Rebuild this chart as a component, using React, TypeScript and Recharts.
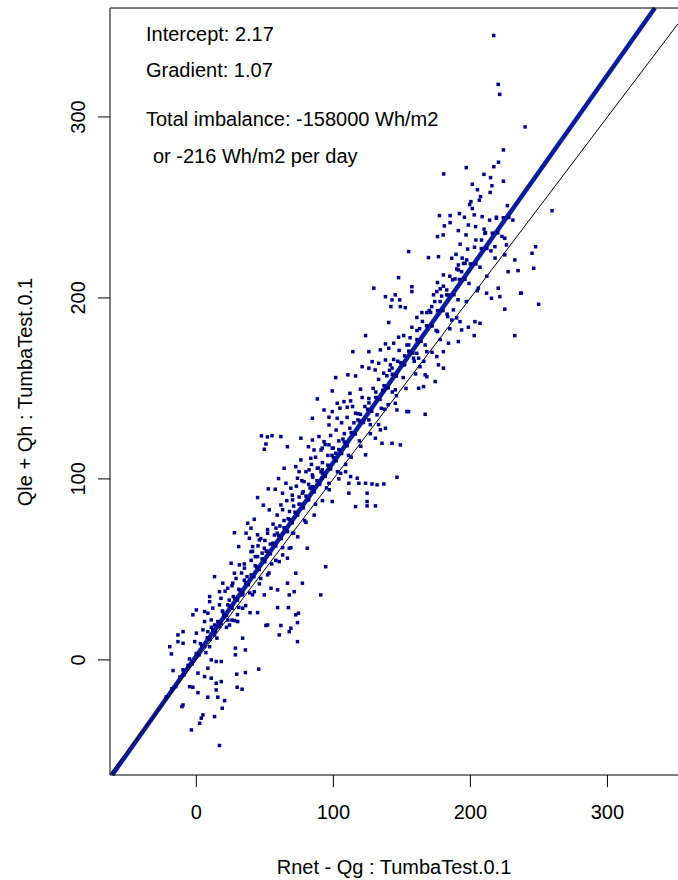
import { ScatterChart, Scatter, XAxis, YAxis, ReferenceLine } from "recharts";

type Pt = [number, number];

const xTicks = [0, 100, 200, 300];
const yTicks = [0, 100, 200, 300];
const xDomain: [number, number] = [-63, 351.5];
const yDomain: [number, number] = [-63.6, 360.2];

const intercept = 2.17;
const gradient = 1.07;

const xTitle = "Rnet - Qg : TumbaTest.0.1";
const yTitle = "Qle + Qh : TumbaTest.0.1";
const notes = [
  "Intercept: 2.17",
  "Gradient: 1.07",
  "Total imbalance: -158000 Wh/m2",
  "or -216 Wh/m2 per day",
];

// points sitting on the fitted line (the dense band)
const bandPoints: Pt[] = [
  [-22, -20.5], [-18, -16], [-15, -14.8], [-12, -9.5], [-9, -8.3], [-6, -3], [-3, -2.2],
  [0, 3.5], [2, 2.8], [4, 7.9], [6, 7.4], [8, 12.3], [10, 11.5], [12, 16.6], [14, 15.9],
  [16, 21], [18, 20.1], [20, 25.2], [22, 24.6], [24, 29.8], [26, 28.5], [28, 34], [30, 33],
  [32, 38.5], [34, 37], [36, 42.6], [38, 41.5], [40, 47], [42, 46], [44, 51.4], [46, 50],
  [48, 55.8], [50, 54.2], [52, 60], [54, 58.6], [56, 64.5], [58, 63], [60, 68.8], [62, 67],
  [64, 73], [66, 71.2], [68, 77.5], [70, 75.8], [72, 81.6], [74, 80], [76, 86], [78, 84],
  [80, 90.5], [82, 88.4], [84, 94.6], [86, 92.8], [88, 99], [90, 97], [92, 103.2], [94, 101.4],
  [96, 107.6], [98, 105.5], [100, 111.8], [102, 110], [104, 116.2], [106, 114], [108, 120.4],
  [110, 118.3], [113, 125.6], [116, 124.8], [119, 132], [122, 131.2], [125, 138.5], [128, 137.4],
  [131, 145], [134, 144], [137, 151.5], [140, 150.3], [143, 157.8], [146, 156.8], [149, 164.2],
  [152, 163], [155, 170.6], [158, 169.6], [161, 177], [164, 176], [168, 184.6], [172, 184.5],
  [176, 193], [180, 193], [184, 201.6], [188, 201.8], [192, 210.2], [196, 210.3], [200, 218.8],
  [204, 218.8], [208, 227.3], [212, 227.4], [216, 235.8], [220, 236], [224, 244.3], [228, 244.5],
];

// points close to the line on either side
const nearLine: Pt[] = [
  [-5, 0.5], [3, 9], [7, 4], [11, 18], [15, 12], [19, 27], [23, 22], [27, 35], [31, 29],
  [35, 44], [39, 37], [43, 52], [47, 45], [51, 60], [55, 53], [59, 70], [63, 62], [67, 78],
  [71, 70], [75, 86], [79, 77], [83, 95], [87, 86], [91, 104], [95, 95], [99, 113], [103, 104],
  [107, 122], [111, 113], [115, 131], [119, 121], [123, 140], [127, 130], [131, 148], [135, 139],
  [139, 157], [143, 148], [147, 165], [151, 156], [155, 174], [159, 165], [163, 183], [167, 174],
  [171, 192], [175, 182], [179, 201], [183, 191], [187, 210], [191, 199], [195, 219], [199, 208],
  [203, 228], [207, 217], [211, 236], [215, 226], [219, 244], [223, 234], [227, 251], [231, 243],
];

// the denser cloud just above the line
const aboveCloud: Pt[] = [
  [18, 34], [21, 38], [24, 33], [26, 41], [29, 45], [31, 39], [33, 48], [35, 53], [37, 46],
  [40, 55], [41, 60], [43, 57], [45, 63], [47, 67], [48, 59], [50, 66], [52, 72], [54, 64],
  [56, 75], [57, 69], [59, 80], [61, 74], [63, 83], [64, 77], [66, 88], [68, 82], [70, 91],
  [71, 85], [73, 96], [75, 90], [77, 99], [78, 93], [80, 104], [82, 97], [84, 108], [85, 101],
  [87, 112], [89, 106], [91, 116], [92, 109], [94, 119], [96, 113], [98, 124], [100, 117],
  [102, 127], [104, 121], [106, 131], [108, 125], [110, 134], [112, 128], [114, 140], [118, 136],
  [121, 145], [126, 142], [129, 150], [133, 155], [136, 149], [141, 160], [144, 166], [148, 171],
  [152, 168], [156, 178], [161, 182], [165, 187], [170, 193], [174, 198], [178, 205], [185, 212],
  [190, 216], [194, 222], [198, 227], [204, 232], [210, 238], [214, 243],
];

// and just below it
const belowCloud: Pt[] = [
  [22, 18], [26, 22], [30, 25], [36, 30], [41, 36], [46, 42], [53, 48], [58, 55], [63, 58],
  [69, 62], [74, 68], [80, 76], [86, 80], [92, 88], [97, 94], [104, 100], [109, 108], [113, 112],
  [120, 118], [127, 125], [133, 130], [140, 141], [146, 146], [153, 150], [160, 158], [166, 165],
  [172, 170], [178, 177], [185, 183], [190, 189], [197, 198], [205, 204], [212, 212], [218, 222],
];

const scatterLow: Pt[] = [
  [44.7, 89.7], [48.9, 85.5], [42.3, 77.7], [37.5, 75.5], [39.9, 72.8], [27.8, 70.3], [36.3, 70],
  [44.7, 69.1], [38.7, 67.2], [46, 66.3], [30.9, 62.6], [41.1, 62.6], [39.9, 59.8], [49.6, 61.7],
  [44.7, 57.1], [25.4, 53.4], [31.4, 52.5], [35.1, 50.7], [27.8, 47.9], [13.3, 46], [19.3, 42.4],
  [26.6, 42.4], [22.9, 39.6], [16.9, 37.7], [9.7, 35], [49.6, 35.9], [42.3, 37.7], [33.8, 35.9],
  [44.7, 26.1], [39.2, 26.1], [33.8, 28.6], [30.2, 21.2], [27.8, 21.7], [33.8, 12], [28.5, 6.5],
  [35.8, 5.5], [28.5, 2.8], [45.5, -5.1], [35.8, -7], [29.5, -7.9], [24.2, 19.3], [33.4, -16.2],
  [29.8, -15.1], [-19.4, 7.3], [-18.2, 3.3], [-13.4, 10.1], [-9.7, 9.2], [-13.4, 13.8],
  [-9.7, 15.6], [-1.2, 10.1], [0, 14.8], [4.8, 16.6], [8.4, 15.6], [13.3, 13.8], [6, 21.2],
  [10.9, 22.1], [15.7, 21.2], [-2.5, 24.9], [0, 27.6], [6, 26.7], [8.4, 25.8], [12, 28.6],
  [9.7, 32.2], [16.9, 30.4], [19.3, 26.7], [22.9, 30.4], [20.6, 23.9], [16.9, 18.4], [13.3, 19.3],
  [-17, -5.9], [-9.7, -5.5], [9.7, 7.3], [10.9, 0], [14.5, -0.9], [18.2, -0.9], [8.4, -4.6],
  [1.2, -7.3], [6, -9.2], [10.9, -10.1], [14.5, -12.9], [18.2, -12], [-4.9, -14.8], [-2.5, -15.1],
  [1.2, -18.1], [8.4, -20.6], [15.7, -20.6], [14.5, -16.6], [20.6, -22.5], [18.9, -26.7],
  [-10.5, -25.8], [-9.7, -24.9], [4.8, -30.4], [3.6, -32.2], [2.4, -35], [13.3, -31.3],
  [-3.6, -38.7], [16.9, -47.3],
];

const scatterMid: Pt[] = [
  [147.6, 211.2], [129.5, 205.4], [138, 200.7], [145.2, 201.7], [142.8, 198.9], [148.4, 198.9],
  [142, 195.2], [148.9, 195.2], [140.4, 186.4], [123.5, 179.2], [147.6, 178.3], [144, 175],
  [138, 174.6], [125.9, 170.3], [134.3, 171.3], [140.4, 172.2], [128.3, 164.8], [133.1, 163.9],
  [138, 165.7], [141.6, 163], [125.9, 161.2], [121, 162], [130.5, 160.2], [136.8, 158.4],
  [142.8, 161.2], [114.2, 170.3], [110.6, 157.5], [101.7, 156], [116.2, 156.9], [99.2, 148.6],
  [112.1, 147.3], [119.8, 149.6], [88.3, 144.2], [125.9, 144.4], [102.8, 141.8], [107.7, 142.7],
  [112.6, 143.1], [104.8, 139.1], [110.1, 139.6], [93.2, 138.1], [99.2, 137.2], [116.2, 136.3],
  [119.8, 135.7], [84.7, 133.5], [96.8, 134.1], [102.8, 133.5], [117.9, 132.6], [96.8, 129.8],
  [125.9, 132.6], [131.9, 135.4], [145.2, 141.8], [134.3, 127.1], [138, 128], [135.5, 119.7],
  [142.8, 119.7], [148.9, 118.8], [123.5, 113.3], [130.7, 122.5], [61.7, 123.4], [66.5, 117.8],
  [76.3, 122.5], [84.7, 121.5], [89.5, 123.4], [81.8, 117.8], [85.9, 116], [93.2, 120.6],
  [96.8, 118.8], [91.9, 117], [99.2, 117], [101.7, 114.2], [76.3, 110.5], [83.5, 111.4],
  [64.1, 105.9], [72.6, 106.8], [75, 104], [82.3, 105], [88.3, 105.9], [91.9, 105], [84.7, 102.2],
  [73.8, 100.4], [78.6, 98.5], [65.4, 97.6], [69, 94.9], [91.9, 100.4], [96.8, 97.6], [84.7, 95.7],
  [77.4, 92.1], [62.9, 92.1], [112.6, 101.3], [117.4, 100.4], [108.9, 104], [105.3, 103.1],
  [111.3, 97.6], [118.6, 97.6], [123.5, 97.6], [128.2, 97.2], [131.9, 96.7], [136.8, 97.2],
  [146.4, 100.9], [124.6, 92.1], [111.3, 92.1], [99.2, 87.5], [116.2, 84.7], [124.6, 87.5],
  [124.6, 85.1], [130.7, 85.1], [70.2, 88.4], [61.7, 85.6], [145.2, 149.2], [146.4, 138.1],
  [137.5, 138.5], [55.2, 123.9], [50.8, 119.3], [49.6, 116.4], [47.5, 123.8], [51.9, 123.2],
  [52.5, 94.5], [57.6, 94.3], [60, 100.2], [53.2, 82.9], [52, 70], [58.1, 72.8], [66.5, 70.9],
  [70.2, 70], [67.8, 61.7], [66.5, 56.2], [60.5, 54.3], [81, 61.7], [94.4, 51.5], [72.6, 47.9],
  [66.5, 42.4], [77.4, 42.4], [67.8, 35.9], [71.4, 37.7], [90.8, 35.9], [59.3, 38.7], [52, 47],
  [54.5, 39.6], [59.3, 28.9], [67.2, 28.9], [74.5, 25.8], [50.8, 19], [61.7, 19], [69, 17.5],
  [67.8, 15.6], [60.5, 13.8], [73.8, 10.1], [52, 19.3], [72.6, 24.9], [73.8, 20.6],
];

const scatterHigh: Pt[] = [
  [217, 345], [220.3, 318], [221.4, 312.5], [239.9, 294.5], [224.1, 281.8], [220.5, 275],
  [217.1, 272.5], [197, 272], [180.5, 268.5], [209.9, 268.3], [214.7, 266.5], [224.1, 264.5],
  [201.4, 262.8], [215.7, 262], [205.2, 259.8], [214.4, 258.3], [207.4, 256], [206.5, 254],
  [200.4, 253.2], [199.4, 251.6], [201.4, 249.4], [177.4, 245.5], [185.2, 245.5], [192, 246.6],
  [195.6, 244.6], [202.8, 245.9], [208.6, 244.9], [219, 244.6], [181, 239.8], [185.2, 241.6],
  [198.5, 240.3], [191.2, 237.2], [203.8, 239.4], [196.8, 234.8], [180.1, 234.8], [176, 233.9],
  [210.6, 235.7], [208.1, 232], [192.5, 229.7], [225.1, 233], [226.3, 229.3], [217.9, 228.3],
  [154.9, 225.6], [169.4, 222.3], [176.7, 222.8], [189.5, 224.1], [186.4, 221.9], [197.3, 221],
  [196.1, 219.2], [191.2, 218.2], [191.2, 215.5], [193.6, 214.5], [225.1, 223.8], [232.4, 221],
  [227.5, 214.5], [234.8, 215.1], [180.3, 212.7], [188.8, 210.5], [176, 208.5], [180.3, 206.5],
  [182.7, 204.4], [182.7, 201.7], [175.5, 203.5], [173.1, 201.7], [157.3, 206.2], [157.3, 203.5],
  [152.5, 194.6], [205.8, 205.4], [211.8, 202.6], [220.3, 205.4], [221.5, 200.7], [215.4, 199.8],
  [236.7, 202.6], [225.1, 193.8], [232.4, 179.2], [164.6, 191.9], [168.2, 191.9], [171.8, 195.2],
  [177.9, 198], [183.5, 189.7], [187.6, 193.4], [186.4, 187.8], [160.9, 189.2], [157.3, 183.8],
  [176, 181.4], [192.4, 186.9], [198.5, 183.8], [203.3, 186.9], [207, 186], [193.6, 182.3],
  [202.8, 179.2], [151.3, 179.2], [153.7, 174], [184, 175], [191.2, 175.9], [168.2, 170.3],
  [160.9, 169.4], [180.3, 170.3], [175.5, 167.6], [162.2, 166.7], [163.2, 162], [167, 157.5],
  [176.7, 163], [180.3, 161.2], [158.5, 166.7], [259.6, 248.2], [247.6, 228.3], [245, 224.7],
  [246.2, 216.4], [249.8, 196.5], [237.2, 202.6], [168.2, 156.5], [174.3, 153.8], [165.8, 151],
  [162.2, 150.1], [153.7, 137.2], [154.9, 137.2], [167, 135.7],
];

const scatterData = [
  ...bandPoints,
  ...nearLine,
  ...aboveCloud,
  ...belowCloud,
  ...scatterLow,
  ...scatterMid,
  ...scatterHigh,
].map(([x, y]) => ({ x, y }));

// fitted line, clipped to the plotting region
const fitX0 = Math.max(xDomain[0], (yDomain[0] - intercept) / gradient);
const fitX1 = Math.min(xDomain[1], (yDomain[1] - intercept) / gradient);
const fitSegment = [
  { x: fitX0, y: intercept + gradient * fitX0 },
  { x: fitX1, y: intercept + gradient * fitX1 },
];
// 1:1 line
const oneX0 = Math.max(xDomain[0], yDomain[0]);
const oneX1 = Math.min(xDomain[1], yDomain[1]);
const oneSegment = [
  { x: oneX0, y: oneX0 },
  { x: oneX1, y: oneX1 },
];

const FONT = "'Liberation Sans', Arial, Helvetica, sans-serif";
const POINT = "#00008b";

const Dot = (props: any) => (
  <rect x={props.cx - 1.75} y={props.cy - 1.75} width={3.5} height={3.5} fill={POINT} />
);

const YTick = ({ x, y, payload }: any) => (
  <text
    x={x}
    y={y}
    transform={`rotate(-90 ${x} ${y})`}
    textAnchor="middle"
    fontSize={20}
    fontFamily={FONT}
    fill="#000"
  >
    {payload.value}
  </text>
);

export default function App() {
  return (
    <div style={{ position: "absolute", left: 0, top: 0, width: 678, height: 880, background: "#fff" }}>
      <ScatterChart width={678} height={880} margin={{ top: 8, right: 0, bottom: 0, left: 0 }}>
        <XAxis
          dataKey="x"
          type="number"
          domain={xDomain}
          allowDataOverflow
          ticks={xTicks}
          height={105}
          tickSize={12}
          tickMargin={18}
          axisLine={{ stroke: "#000" }}
          tickLine={{ stroke: "#000" }}
          tick={{ fontSize: 20, fill: "#000", fontFamily: FONT }}
        />
        <YAxis
          dataKey="y"
          type="number"
          domain={yDomain}
          allowDataOverflow
          ticks={yTicks}
          width={110}
          tickSize={12}
          tickMargin={13}
          axisLine={{ stroke: "#000" }}
          tickLine={{ stroke: "#000" }}
          tick={<YTick />}
        />
        <Scatter data={scatterData} shape={Dot} isAnimationActive={false} />
        <ReferenceLine segment={fitSegment} stroke="#0a1c9c" strokeWidth={4.5} ifOverflow="visible" />
        <ReferenceLine segment={oneSegment} stroke="#000" strokeWidth={1} ifOverflow="visible" />
        <ReferenceLine y={yDomain[1]} stroke="#000" ifOverflow="visible" />
      </ScatterChart>
      <svg
        width={678}
        height={880}
        style={{ position: "absolute", left: 0, top: 0, pointerEvents: "none" }}
        fontFamily={FONT}
        fontSize={20}
        fill="#000"
      >
        <text x={146} y={41}>{notes[0]}</text>
        <text x={146} y={77}>{notes[1]}</text>
        <text x={146} y={125.5}>{notes[2]}</text>
        <text x={153} y={162.5}>{notes[3]}</text>
        <text x={394} y={874} textAnchor="middle">{xTitle}</text>
        <text x={32} y={392} textAnchor="middle" transform="rotate(-90 32 392)">{yTitle}</text>
      </svg>
    </div>
  );
}
